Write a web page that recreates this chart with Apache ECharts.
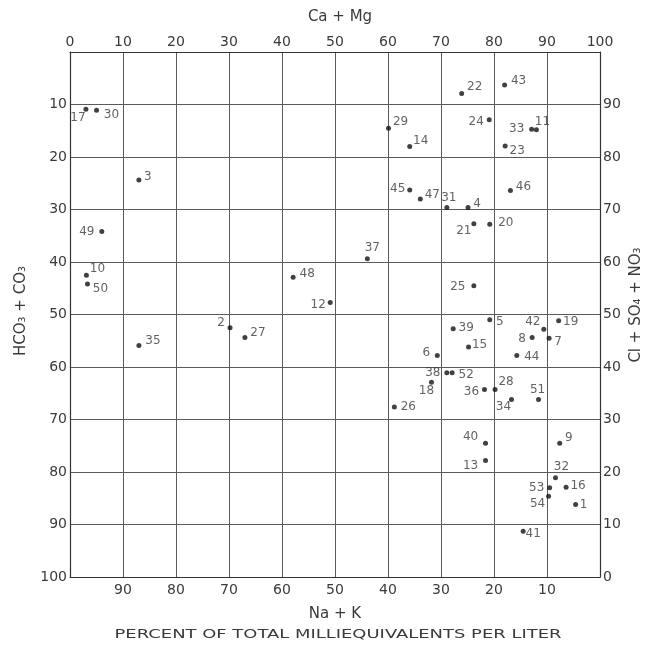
<!DOCTYPE html>
<html>
<head>
<meta charset="utf-8">
<script src="https://cdn.jsdelivr.net/npm/echarts@6/dist/echarts.min.js"></script>
<style>
html,body{margin:0;padding:0;background:#fff;}
#chart{width:655px;height:645px;}
</style>
</head>
<body>
<div id="chart"></div>
<script>
// ---- data ----
const samples = ['1','2','3','4','5','6','7','8','9','10','11','12','13','14','15','16','17','18','19','20','21','22','23','24','25','26','27','28','29','30','31','32','33','34','35','36','37','38','39','40','41','42','43','44','45','46','47','48','49','50','51','52','53','54'];
// percent Ca + Mg (top axis); Na + K = 100 - Ca + Mg (bottom axis)
const caMg = [95.4,30.2,13.0,75.1,79.2,69.3,90.4,87.2,92.4,3.1,88.0,49.1,78.4,64.1,75.2,93.6,3.0,68.2,92.2,79.2,76.2,73.9,82.1,79.1,76.2,61.2,33.0,80.2,60.1,5.0,71.1,91.6,87.1,83.3,13.0,78.2,56.1,71.1,72.3,78.4,85.5,89.4,82.0,84.3,64.1,83.1,66.1,42.1,6.0,3.3,88.4,72.1,90.5,90.3];
// percent HCO3 + CO3 (left axis); Cl + SO4 + NO3 = 100 - HCO3 + CO3 (right axis)
const hco3 = [86.2,52.5,24.4,29.6,51.0,57.8,54.5,54.4,74.5,42.5,14.8,47.7,77.8,18.0,56.2,82.9,10.9,62.9,51.2,32.8,32.7,7.9,17.9,12.9,44.5,67.6,54.4,64.3,14.5,11.1,29.6,81.1,14.7,66.2,55.9,64.3,39.4,61.1,52.7,74.5,91.3,52.8,6.3,57.8,26.3,26.4,28.0,42.9,34.2,44.2,66.2,61.1,83.0,84.6];
const topTicks = [0,10,20,30,40,50,60,70,80,90,100];           // Ca + Mg
const bottomTicks = [90,80,70,60,50,40,30,20,10];               // Na + K
const leftTicks = [10,20,30,40,50,60,70,80,90,100];             // HCO3 + CO3
const rightTicks = [90,80,70,60,50,40,30,20,10,0];              // Cl + SO4 + NO3

// ---- label placement (style, not data): offset of label centre from the dot, px ----
const labelOffsets = {
 '1':[8,0],'2':[-9,-5],'3':[9,-3],'4':[9,-4],'5':[10,2],'6':[-11,-3],'7':[9,4],'8':[-10,1],'9':[9,-5],
 '10':[11,-6],'11':[6,-8],'12':[-12,2],'13':[-15,5],'14':[11,-6],'15':[11,-2],'16':[12,-1],'17':[-8,9],
 '18':[-5,9],'19':[12,1],'20':[16,-1],'21':[-10,7],'22':[13,-7],'23':[12,5],'24':[-13,2],'25':[-16,1],
 '26':[14,0],'27':[13,-5],'28':[11,-8],'29':[12,-6],'30':[15,5],'31':[2,-10],'32':[6,-11],'33':[-15,0],
 '34':[-8,7],'35':[14,-5],'36':[-13,2],'37':[5,-11],'38':[-14,0],'39':[13,-1],'40':[-15,-6],'41':[10,3],
 '42':[-11,-7],'43':[14,-4],'44':[15,1],'45':[-12,-1],'46':[13,-4],'47':[12,-4],'48':[14,-3],'49':[-15,0],
 '50':[13,5],'51':[-1,-10],'52':[14,2],'53':[-13,0],'54':[-11,8]
};

const FONT = 'DejaVu Sans';
const TXT = '#3a3a3a';
const LINE = '#5a5a5a';
const DOT = 5;

const pts = samples.map((s,i)=>{
  const o = labelOffsets[s] || [10,0];
  return {
    name: s,
    value: [caMg[i], hco3[i]],
    label: { position: [DOT/2 + o[0], DOT/2 + o[1]] }
  };
});

function fmt(list){ return v => (list.indexOf(Math.round(v)) >= 0 ? String(Math.round(v)) : ''); }

const chart = echarts.init(document.getElementById('chart'), null, {renderer:'canvas'});
const axisLabelBase = { color: TXT, fontFamily: FONT, fontSize: 14 };
chart.setOption({
  backgroundColor: '#fff',
  animation: false,
  grid: { left: 70, top: 52, width: 530, height: 525, containLabel: false },
  xAxis: [
    { type:'value', position:'top', min:0, max:100, interval:10,
      axisLine:{show:true, onZero:false, lineStyle:{color:'#333', width:1.2}},
      axisTick:{show:false},
      axisLabel:Object.assign({margin:3, formatter: fmt(topTicks)}, axisLabelBase),
      splitLine:{show:true, lineStyle:{color:LINE, width:1}} },
    { type:'value', position:'bottom', inverse:true, min:0, max:100, interval:10,
      axisLine:{show:true, onZero:false, lineStyle:{color:'#333', width:1.2}},
      axisTick:{show:false},
      axisLabel:Object.assign({margin:6, formatter: fmt(bottomTicks)}, axisLabelBase),
      splitLine:{show:false} }
  ],
  yAxis: [
    { type:'value', position:'left', inverse:true, min:0, max:100, interval:10,
      axisLine:{show:true, onZero:false, lineStyle:{color:'#333', width:1.2}},
      axisTick:{show:false},
      axisLabel:Object.assign({margin:3, formatter: fmt(leftTicks)}, axisLabelBase),
      splitLine:{show:true, lineStyle:{color:LINE, width:1}} },
    { type:'value', position:'right', min:0, max:100, interval:10,
      axisLine:{show:true, onZero:false, lineStyle:{color:'#333', width:1.2}},
      axisTick:{show:false},
      axisLabel:Object.assign({margin:3, formatter: fmt(rightTicks)}, axisLabelBase),
      splitLine:{show:false} }
  ],
  series: [{
    type:'scatter', xAxisIndex:0, yAxisIndex:0,
    symbol:'circle', symbolSize:DOT,
    itemStyle:{color:'#111'},
    label:{ show:true, formatter:'{b}', color:TXT, fontFamily:FONT, fontSize:12,
            align:'center', verticalAlign:'middle' },
    labelLayout:{ hideOverlap:false },
    emphasis:{disabled:true},
    data: pts
  }],
  graphic: [
    { type:'text', x:340, y:17, style:{ text:'Ca + Mg', font:'15px '+FONT, fill:TXT, align:'center', verticalAlign:'middle' } },
    { type:'text', x:335, y:614, style:{ text:'Na + K', font:'15px '+FONT, fill:TXT, align:'center', verticalAlign:'middle' } },
    { type:'text', x:338, y:635, scaleX:1.38, style:{ text:'PERCENT OF TOTAL MILLIEQUIVALENTS PER LITER', font:'13px '+FONT, fill:TXT, align:'center', verticalAlign:'middle' } },
    { type:'text', x:21, y:311, rotation:Math.PI/2, style:{ text:'HCO\u2083 + CO\u2083', font:'15px '+FONT, fill:TXT, align:'center', verticalAlign:'middle' } },
    { type:'text', x:636, y:305, rotation:Math.PI/2, style:{ text:'Cl + SO\u2084 + NO\u2083', font:'15px '+FONT, fill:TXT, align:'center', verticalAlign:'middle' } }
  ]
});
</script>
</body>
</html>
